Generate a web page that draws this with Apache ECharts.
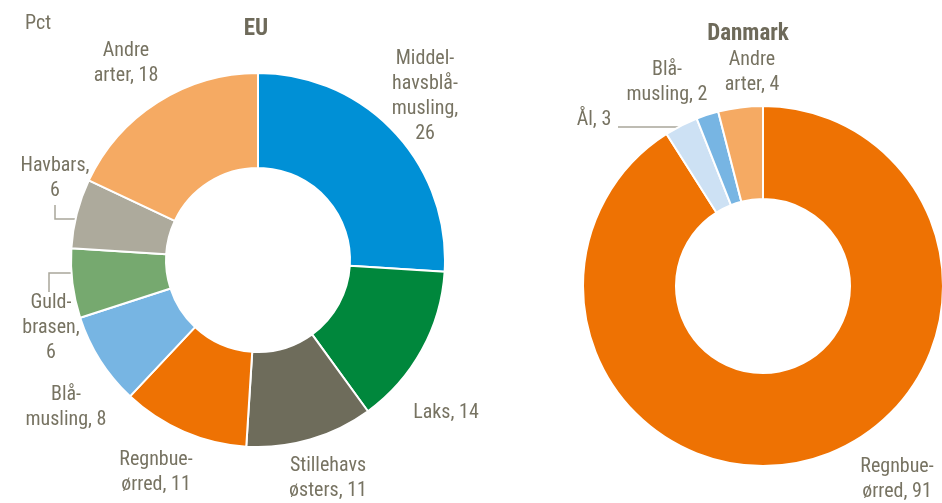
<!DOCTYPE html>
<html>
<head>
<meta charset="utf-8">
<script src="https://cdn.jsdelivr.net/npm/echarts@6/dist/echarts.min.js"></script>
<style>
  html, body { margin: 0; padding: 0; background: #ffffff; }
  #chart { width: 942px; height: 503px; }
</style>
</head>
<body>
<div id="chart"></div>
<script>
// Share of aquaculture production by species, percent
const euCategories = ['Middelhavsblåmusling', 'Laks', 'Stillehavsøsters', 'Regnbueørred', 'Blåmusling', 'Guldbrasen', 'Havbars', 'Andre arter'];
const euValues = [26, 14, 11, 11, 8, 6, 6, 18];
const euLabelText = ['Middel-\nhavsblå-\nmusling,\n{v}', 'Laks, {v}', 'Stillehavs\nøsters, {v}', 'Regnbue-\nørred, {v}', 'Blå-\nmusling, {v}', 'Guld-\nbrasen,\n{v}', 'Havbars,\n{v}', 'Andre\narter, {v}'];

const dkCategories = ['Regnbueørred', 'Ål', 'Blåmusling', 'Andre arter'];
const dkValues = [91, 3, 2, 4];
const dkLabelText = ['Regnbue-\nørred, {v}', 'Ål, {v}', 'Blå-\nmusling, {v}', 'Andre\narter, {v}'];

// Slice colours per species
const euColors = ['#0090d6', '#00873c', '#6e6c5b', '#ee7203', '#77b5e3', '#76a96f', '#adaa9c', '#f5aa63'];
const dkColors = ['#ee7203', '#cde1f4', '#77b5e3', '#f5aa63'];

// Layout of the two rings
const euRing = { cx: 258, cy: 260, r0: 92, r: 187 };
const dkRing = { cx: 763, cy: 286, r0: 87, r: 180 };

// Centre points of the label blocks
const euLabelSpots = [[425, 96], [446, 413], [328, 478], [156, 472], [66, 407], [51, 328], [55, 178], [126, 63]];
const dkLabelSpots = [[897, 479], [594, 120], [667, 82], [752, 72]];

const TEXT = '#777362';
const FONT = "'Roboto Condensed', 'DejaVu Sans Condensed', sans-serif";
const LINE_H = 25;

// Elbow leader lines: horizontal from the ring edge, then vertical to the label
function outerX(ring, y) {
  const dy = y - ring.cy;
  return ring.cx - Math.sqrt(ring.r * ring.r - dy * dy);
}
const euLeaders = {
  6: function () { const y = 219; return [[outerX(euRing, y) + 2, y], [55, y], [55, 205]]; },
  5: function () { const y = 273; return [[outerX(euRing, y) + 2, y], [49, y], [49, 292]]; }
};
const dkLeaders = {
  1: function () { return [[679, 135], [679, 127], [618, 127]]; }
};

function buildData(cats, vals, colors, leaders) {
  return cats.map(function (name, i) {
    const item = { name: name, value: vals[i], itemStyle: { color: colors[i] } };
    if (leaders[i]) {
      item.labelLine = { show: true, lineStyle: { color: '#a9a79a', width: 1.5 } };
    }
    return item;
  });
}

function pieSeries(ring, cats, vals, colors, texts, spots, leaders) {
  return {
    type: 'pie',
    center: [ring.cx, ring.cy],
    radius: [ring.r0, ring.r],
    startAngle: 90,
    clockwise: true,
    avoidLabelOverlap: false,
    silent: true,
    animation: false,
    itemStyle: { borderColor: '#ffffff', borderWidth: 2 },
    label: {
      show: true,
      position: 'outside',
      color: TEXT,
      fontFamily: FONT,
      fontSize: 20,
      lineHeight: LINE_H,
      align: 'center',
      formatter: function (p) { return texts[p.dataIndex].replace('{v}', p.value); }
    },
    labelLine: { show: false },
    labelLayout: function (p) {
      const s = spots[p.dataIndex];
      const out = { x: s[0], y: s[1], align: 'center', verticalAlign: 'middle', hideOverlap: false };
      if (leaders[p.dataIndex]) out.labelLinePoints = leaders[p.dataIndex]();
      return out;
    },
    data: buildData(cats, vals, colors, leaders)
  };
}

const chart = echarts.init(document.getElementById('chart'), null, { renderer: 'canvas' });
chart.setOption({
  backgroundColor: '#ffffff',
  animation: false,
  title: [
    { text: 'Pct', left: 25, top: 14, padding: 0, textStyle: { color: TEXT, fontFamily: FONT, fontSize: 20, fontWeight: 'normal' } },
    { text: 'EU', left: 256, top: 18, padding: 0, textAlign: 'center', textStyle: { color: '#6e6a5a', fontFamily: FONT, fontSize: 23, fontWeight: 'bold' } },
    { text: 'Danmark', left: 748, top: 23, padding: 0, textAlign: 'center', textStyle: { color: '#6e6a5a', fontFamily: FONT, fontSize: 23, fontWeight: 'bold' } }
  ],
  series: [
    pieSeries(euRing, euCategories, euValues, euColors, euLabelText, euLabelSpots, euLeaders),
    pieSeries(dkRing, dkCategories, dkValues, dkColors, dkLabelText, dkLabelSpots, dkLeaders)
  ]
});
</script>
</body>
</html>
